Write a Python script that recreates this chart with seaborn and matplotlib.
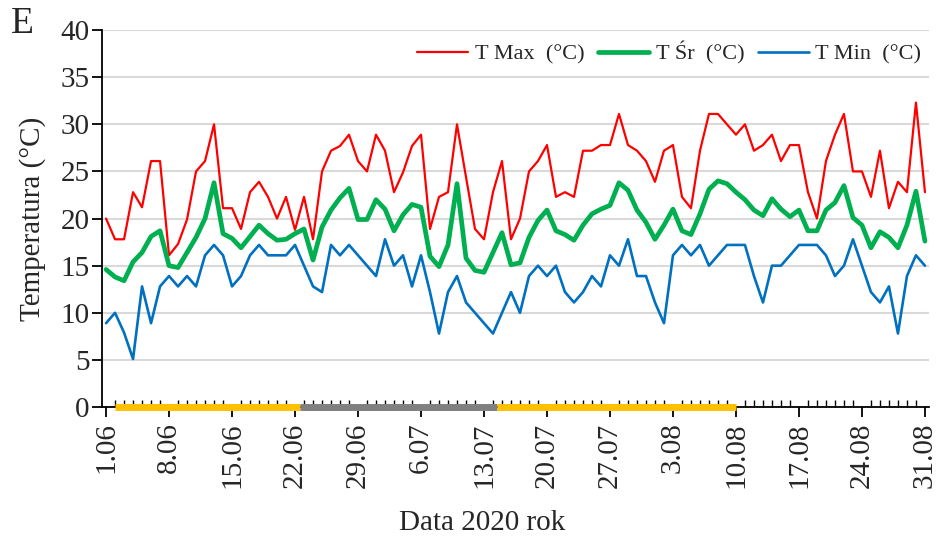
import numpy as np
import pandas as pd
import matplotlib
matplotlib.use("Agg")
import matplotlib.pyplot as plt
import seaborn as sns

# Daily air temperature, summer 2020
dates = pd.date_range("2020-06-01", "2020-08-31", freq="D")

t_max = [20.0, 17.8, 17.8, 22.8, 21.2, 26.1, 26.1, 16.1, 17.3, 19.9,
         25.0, 26.1, 30.0, 21.1, 21.1, 18.9, 22.8, 23.9, 22.3, 20.0,
         22.3, 18.8, 22.3, 17.8, 25.0, 27.2, 27.7, 28.9, 26.1, 25.0,
         28.9, 27.2, 22.8, 24.9, 27.7, 28.9, 18.9, 22.3, 22.8, 30.0,
         24.4, 18.9, 17.8, 22.8, 26.1, 17.8, 20.0, 25.0, 26.1, 27.8,
         22.3, 22.8, 22.3, 27.2, 27.2, 27.8, 27.8, 31.1, 27.8, 27.2,
         26.1, 23.9, 27.2, 27.8, 22.3, 21.1, 27.2, 31.1, 31.1, 30.0,
         28.9, 30.0, 27.2, 27.8, 28.9, 26.1, 27.8, 27.8, 22.8, 20.0,
         26.1, 28.9, 31.1, 25.0, 25.0, 22.3, 27.2, 21.1, 23.9, 22.8,
         32.3, 22.8]

t_mean = [14.6, 13.8, 13.4, 15.4, 16.4, 18.1, 18.7, 15.0, 14.8, 16.4,
          18.0, 20.0, 23.8, 18.4, 17.9, 16.9, 18.1, 19.3, 18.4, 17.7,
          17.8, 18.4, 18.9, 15.6, 19.1, 20.9, 22.2, 23.2, 19.9, 19.9,
          22.0, 21.0, 18.7, 20.4, 21.5, 21.2, 16.0, 14.9, 17.2, 23.7,
          15.8, 14.5, 14.3, 16.4, 18.5, 15.1, 15.3, 18.0, 19.8, 20.9,
          18.7, 18.3, 17.7, 19.3, 20.5, 21.0, 21.4, 23.8, 23.0, 20.9,
          19.6, 17.8, 19.3, 21.0, 18.7, 18.3, 20.5, 23.1, 24.0, 23.7,
          22.8, 22.0, 20.9, 20.3, 22.1, 21.0, 20.2, 20.9, 18.7, 18.7,
          20.9, 21.7, 23.5, 20.1, 19.3, 16.9, 18.6, 18.0, 16.9, 19.3,
          22.9, 17.6]

t_min = [8.9, 10.0, 7.9, 5.1, 12.8, 8.9, 12.8, 13.9, 12.8, 13.9,
         12.8, 16.1, 17.2, 16.1, 12.8, 13.9, 16.1, 17.2, 16.1, 16.1,
         16.1, 17.2, 15.0, 12.8, 12.2, 17.2, 16.1, 17.2, 16.1, 15.0,
         13.9, 17.8, 15.0, 16.1, 12.8, 16.1, 12.2, 7.8, 12.2, 13.9,
         11.1, 10.0, 8.9, 7.8, 10.0, 12.2, 10.0, 13.9, 15.0, 13.9,
         15.0, 12.2, 11.1, 12.2, 13.9, 12.8, 16.1, 15.0, 17.8, 13.9,
         13.9, 11.1, 8.9, 16.1, 17.2, 16.1, 17.2, 15.0, 16.1, 17.2,
         17.2, 17.2, 13.9, 11.1, 15.0, 15.0, 16.1, 17.2, 17.2, 17.2,
         16.1, 13.9, 15.0, 17.8, 15.0, 12.2, 11.1, 12.8, 7.8, 13.9,
         16.1, 15.0]

series_names = ["T Max  (°C)", "T Śr  (°C)", "T Min  (°C)"]
series_colors = ["#FF0000", "#00B050", "#0070C0"]
series_widths = [1.6, 3.4, 1.9]

# Vegetation phases marked along the date axis (start day, end day, colour)
phase_start = [1.0, 21.5, 43.5]
phase_end = [21.5, 43.5, 70.0]
phase_color = ["#FFC000", "#808080", "#FFC000"]

sns.set_style("white")
plt.rcParams["font.family"] = ["Liberation Serif", "DejaVu Serif"]

day = np.arange(len(dates))
df = pd.DataFrame({"day": day,
                   series_names[0]: t_max,
                   series_names[1]: t_mean,
                   series_names[2]: t_min})

fig = plt.figure(figsize=(9.4, 5.37), dpi=100)
ax = fig.add_axes([0.1085, 0.242, 0.8798, 0.702])

for name, col, lw in zip(series_names, series_colors, series_widths):
    sns.lineplot(data=df, x="day", y=name, color=col, linewidth=lw,
                 label=name, ax=ax)

for s, e, c in zip(phase_start, phase_end, phase_color):
    ax.plot([s, e], [0, 0], color=c, linewidth=5, solid_capstyle="butt",
            clip_on=False, zorder=3)

ax.set_xlim(-0.45, len(dates) - 1 + 0.45)
ax.set_ylim(0, 40)
ax.set_yticks(np.arange(0, 41, 5))
major_idx = day[::7]
ax.set_xticks(major_idx)
ax.set_xticklabels([f"{d.day}.{d.month:02d}" for d in dates[::7]])
ax.set_xticks(day, minor=True)

ax.yaxis.grid(True, color="#d9d9d9", linewidth=1.5)
ax.xaxis.grid(False)
ax.set_axisbelow(True)

for side in ["top", "right"]:
    ax.spines[side].set_visible(False)
for side in ["left", "bottom"]:
    ax.spines[side].set_color("black")
    ax.spines[side].set_linewidth(1.3)

ax.tick_params(axis="y", which="major", direction="out", length=7,
               width=1.3, color="black", labelsize=21, pad=2, left=True)
ax.tick_params(axis="x", which="major", direction="out", length=7,
               width=1.3, color="black", labelsize=21, pad=4,
               labelrotation=90, bottom=True)
ax.tick_params(axis="x", which="minor", direction="in", length=5,
               width=1.0, color="black", bottom=True)

ax.set_xlabel("Data 2020 rok", fontsize=21)
ax.xaxis.set_label_coords(0.46, -0.272)
ax.set_ylabel("Temperatura (°C)", fontsize=21, labelpad=10)

ax.legend(loc="upper right", bbox_to_anchor=(1.015, 1.022), ncol=3,
          frameon=False, fontsize=16, handlelength=2.3,
          handletextpad=0.3, columnspacing=0.6)

fig.text(0.012, 0.955, "E", fontsize=27, va="center", ha="left")

fig.savefig("out.png", dpi=100)
